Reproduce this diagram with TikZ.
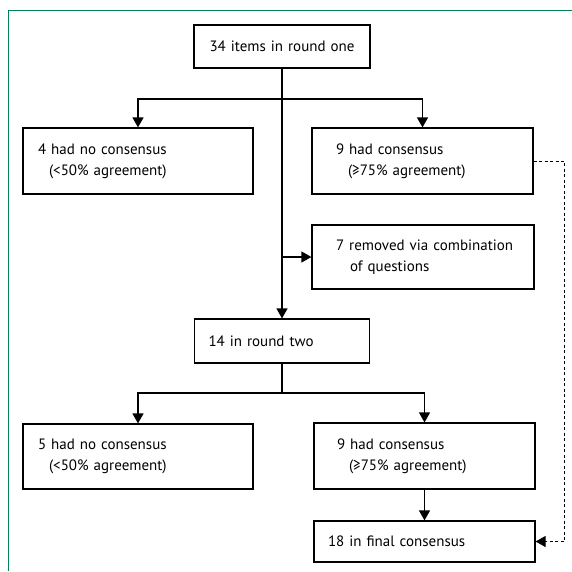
\documentclass[tikz,border=0pt]{standalone}
\usepackage{fontspec}
\setmainfont{PT Sans}
\usetikzlibrary{arrows.meta}
\definecolor{framegreen}{RGB}{0,130,82}
\tikzset{
  stage/.style 2 args={draw, line width=1.2pt, inner sep=0pt, align=left, text width=#1, minimum height=#2},
  flow/.style={line width=1.2pt, -{Triangle[length=10pt,width=11pt]}},
}

\begin{document}
\begin{tikzpicture}[x=1pt,y=-1pt,font=\fontsize{15}{21}\selectfont]
\useasboundingbox (0,0) rectangle (572,571);
\draw[framegreen, line width=1pt] (8,571) -- (8,10) -- (572,10);

\node[stage={176pt}{43pt}, align=center] (items) at (282,46.5) {34 items in round one};
\node[stage={230pt}{66pt}] (nocons1) at (138,161) {\hspace*{15pt}4 had no consensus\\\hspace*{26pt}(<50\% agreement)};
\node[stage={221pt}{66pt}] (cons1) at (422.5,161) {\hspace*{24pt}9 had consensus\\\hspace*{36pt}(≥75\% agreement)};
\node[stage={222pt}{64pt}] (removed) at (423,257) {\hspace*{24pt}7 removed via combination\\\hspace*{38pt}of questions};
\node[stage={175pt}{44pt}] (round2) at (282,341) {\hspace*{14pt}14 in round two};
\node[stage={230pt}{65pt}] (nocons2) at (138,456.5) {\hspace*{15pt}5 had no consensus\\\hspace*{26pt}(<50\% agreement)};
\node[stage={221pt}{66pt}] (cons2) at (424.5,456) {\hspace*{23pt}9 had consensus\\\hspace*{35pt}(≥75\% agreement)};
\node[stage={221pt}{41pt}] (final) at (424.5,541.5) {\hspace*{14pt}18 in final consensus};

\coordinate (split1) at (282,99);
\coordinate (split2) at (282,393);

\draw[flow] (items.south) -- (items.south |- round2.north);
\draw[flow] (split1) -| (nocons1.north);
\draw[flow] (split1) -| (cons1.north);
\draw[flow] (items.south |- removed.west) -- (removed.west);

\draw[line width=1.2pt] (round2.south) -- (split2);
\draw[flow] (split2) -| (nocons2.north);
\draw[flow] (split2) -| (cons2.north);
\draw[flow] (cons2) -- (final);

%\draw[flow] (cons1.east) -- (final.east);
\draw[flow, line width=1pt, dash pattern=on 3pt off 2.5pt] (cons1.east) -- ++(31,0) |- (final.east);

\end{tikzpicture}
\end{document}
